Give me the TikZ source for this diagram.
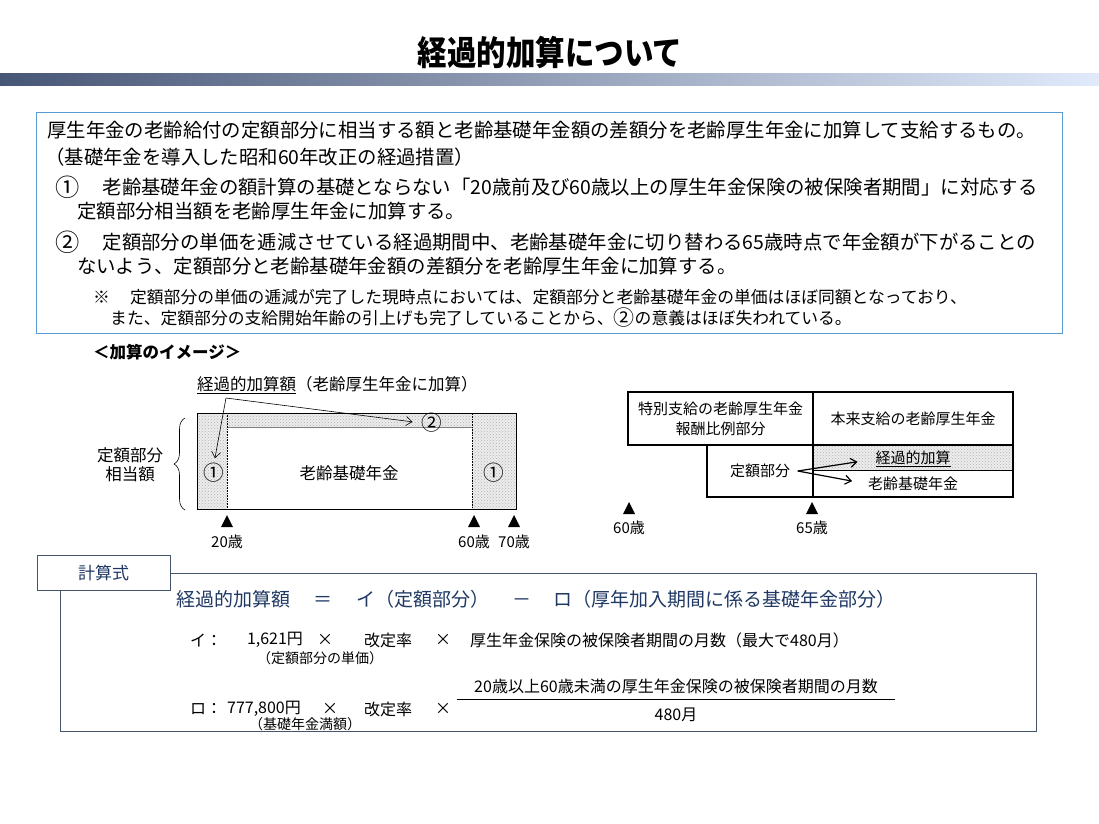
\documentclass[tikz,border=0pt]{standalone}
\usepackage{fontspec}
\setmainfont{Noto Sans CJK JP}
\usetikzlibrary{arrows.meta,decorations.pathreplacing,patterns}
\definecolor{boxblue}{RGB}{91,155,213}
\definecolor{slate}{RGB}{68,84,106}
\definecolor{navy}{RGB}{31,56,100}
\definecolor{barleft}{RGB}{72,86,118}
\definecolor{barmid}{RGB}{68,114,196}
\definecolor{barright}{RGB}{224,234,250}
\newcommand{\cnum}[1]{\raisebox{-0.08em}{\scalebox{1.25}{#1}}}
\tikzset{
  info/.style={anchor=west,inner sep=0pt,font=\fontsize{19.4}{22}\selectfont},
  note/.style={anchor=west,inner sep=0pt,font=\fontsize{16.8}{20}\selectfont},
  lbl/.style={inner sep=0pt,font=\fontsize{16.5}{19}\selectfont},
  small/.style={inner sep=0pt,font=\fontsize{15}{18}\selectfont},
  tiny/.style={inner sep=0pt,font=\fontsize{14}{16}\selectfont},
  hatch/.style={preaction={fill=gray!14},pattern=crosshatch dots,pattern color=gray!62},
  cell/.style={draw,line width=1.5pt,inner sep=0pt,align=center,font=\fontsize{15}{20}\selectfont},
  barb/.style={-{Straight Barb[length=6pt,width=9pt]}},
  fml/.style={inner sep=0pt,text=navy,font=\fontsize{19}{22}\selectfont},
  row/.style={inner sep=0pt,font=\fontsize{16}{19}\selectfont}
}
\begin{document}
\begin{tikzpicture}[x=1pt,y=-1pt]
  \useasboundingbox[fill=white] (0,0) rectangle (1099,823);
  % title and bar
  \node[inner sep=0pt,font=\fontsize{29.5}{32}\selectfont\bfseries] (title) at (550,52) {\scalebox{1}[1.15]{経過的加算について}};
  \shade[left color=barleft,middle color=barmid,right color=barright] (0,73) rectangle (1099,85);

  % outline box
  \draw[boxblue,line width=0.9pt] (36,112) rectangle (1062,333);
  \node[info] (l1) at (47,130) {厚生年金の老齢給付の定額部分に相当する額と老齢基礎年金額の差額分を老齢厚生年金に加算して支給するもの。};
  \node[info] (l2) at (45,157) {（基礎年金を導入した昭和60年改正の経過措置）};
  \node[info] (l3) at (55,187) {\cnum{①}\hspace{1.2em}老齢基礎年金の額計算の基礎とならない「20歳前及び60歳以上の厚生年金保険の被保険者期間」に対応する};
  \node[info] (l4) at (77,211) {定額部分相当額を老齢厚生年金に加算する。};
  \node[info] (l5) at (55,242) {\cnum{②}\hspace{1.2em}定額部分の単価を逓減させている経過期間中、老齢基礎年金に切り替わる65歳時点で年金額が下がることの};
  \node[info] (l6) at (77,266) {ないよう、定額部分と老齢基礎年金額の差額分を老齢厚生年金に加算する。};
  \node[note] (l7) at (93,297) {※\hspace{1.2em}定額部分の単価の逓減が完了した現時点においては、定額部分と老齢基礎年金の単価はほぼ同額となっており、};
  \node[note] (l8) at (110,318) {また、定額部分の支給開始年齢の引上げも完了していることから、\cnum{②}の意義はほぼ失われている。};

  % image of the addition (left)
  \node[lbl,anchor=west,font=\fontsize{16.5}{19}\selectfont\bfseries] (img) at (93,352) {＜加算のイメージ＞};
  \node[lbl,anchor=west] (kkg) at (197,385) {\underline{経過的加算額}（老齢厚生年金に加算）};
  \filldraw[hatch,draw=black,line width=0.8pt] (197,413) rectangle (516,509);
  \fill[white] (227,427) rectangle (472,509);
  \draw[gray,line width=0.6pt] (227,427) -- (472,427);
  \draw[densely dotted,line width=0.6pt] (227,413) -- (227,509) -- (472,509) -- (472,413);
  \draw[line width=0.8pt] (197,509) -- (227,509) (472,509) -- (516,509);
  \node[lbl] (c1l) at (214,473) {\cnum{①}};
  \node[lbl] (c1r) at (494,473) {\cnum{①}};
  \node[lbl] (c2) at (432,423) {\cnum{②}};
  \node[lbl] (kiso) at (349,473) {老齢基礎年金};
  \coordinate (gs) at (226,398);
  \draw[barb,line width=0.6pt,shorten >=5pt] (gs) -- (c1l.north);
  \draw[barb,line width=0.6pt,shorten >=9pt] (gs) -- (c2.west);
  \draw[decorate,decoration={brace,amplitude=11pt},line width=0.6pt] (185,510) -- (185,418);
  \node[lbl,align=center] (sougaku) at (130,465) {定額部分\\相当額};
  \foreach \x/\t in {227/20歳,474/60歳,514/70歳} {
    \fill (\x-6,527) -- (\x+6,527) -- (\x,515) -- cycle;
    \node[small] (age\x) at (\x,542) {\t};
  }

  % 65 switch (right)
  \node[cell,minimum width=185pt,minimum height=53pt] (tok) at (720.5,418.5) {特別支給の老齢厚生年金\\報酬比例部分};
  \node[cell,minimum width=200pt,minimum height=53pt] (hon) at (913,418.5) {本来支給の老齢厚生年金};
  \node[cell,minimum width=106pt,minimum height=52pt] (tei) at (760,471) {定額部分};
  \filldraw[hatch,draw=black,line width=1.5pt] (813,445) rectangle (1013,497);
  \fill[white] (813,470) rectangle (1013,497);
  \draw[line width=1.5pt] (813,445) rectangle (1013,497);
  \draw[line width=1pt] (813,470) -- (1013,470);
  \node[small] (kk) at (913,459) {\underline{経過的加算}};
  \node[small] (kb) at (913,484) {老齢基礎年金};
  \draw[barb,line width=1.2pt,shorten >=18pt] ([xshift=-16pt]tei.east) -- (kk.west);
  \draw[barb,line width=1.2pt,shorten >=16pt] ([xshift=-16pt]tei.east) -- (kb.west);
  \foreach \x/\t in {629/60歳,812/65歳} {
    \fill (\x-6,514) -- (\x+6,514) -- (\x,502) -- cycle;
    \node[small] (bge\x) at (\x,528) {\t};
  }

  % formula
  \draw[slate,line width=0.9pt] (170,573) -- (1036,573) -- (1036,731) -- (60,731) -- (60,590);
  \node[draw=slate,line width=0.9pt,fill=white,minimum width=133pt,minimum height=35pt,inner sep=0pt,text=navy,font=\fontsize{17}{20}\selectfont] (ksk) at (103.5,572.5) {計算式};
  \node[fml,anchor=west] (f1) at (176,599) {経過的加算額};
  \node[fml] (feq) at (323,599) {\vphantom{経}＝};
  \node[fml,anchor=west] (f2) at (356,599) {イ（定額部分）};
  \node[fml] (fmin) at (522,599) {\vphantom{経}－};
  \node[fml,anchor=west] (f3) at (553,599) {ロ（厚年加入期間に係る基礎年金部分）};

  \node[row,anchor=west] (ia) at (190,640) {イ：};
  \node[row] (ib) at (275,640) {1,621円};
  \node[row] (ic) at (325,640) {×};
  \node[row] (id) at (388,640) {改定率};
  \node[row] (ie) at (443,640) {×};
  \node[row,anchor=west] (if) at (470,640) {厚生年金保険の被保険者期間の月数（最大で480月）};
  \node[tiny] (ig) at (320,658) {（定額部分の単価）};

  \node[row,anchor=west] (ra) at (190,709) {ロ：};
  \node[row] (rb) at (264,709) {777,800円};
  \node[row] (rc) at (330,709) {×};
  \node[row] (rd) at (388,709) {改定率};
  \node[row] (re) at (443,709) {×};
  \node[row] (num) at (676,686) {20歳以上60歳未満の厚生年金保険の被保険者期間の月数};
  \node[row] (den) at (676,715) {480月};
  \draw[line width=0.8pt] (457,699) -- (895,699);
  \node[tiny] (rg) at (305,724) {（基礎年金満額）};
\end{tikzpicture}
\end{document}
